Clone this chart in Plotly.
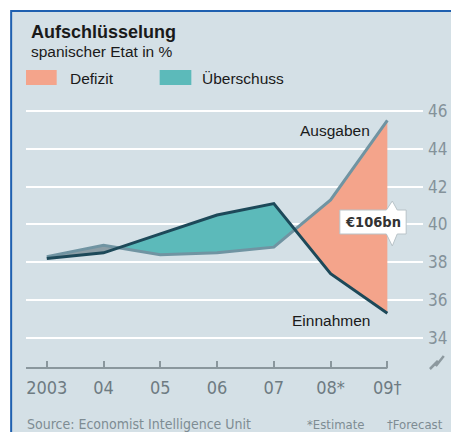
import numpy as np
import plotly.graph_objects as go

# ---- data ----
years = [2003, 2004, 2005, 2006, 2007, 2008, 2009]
year_labels = ["2003", "04", "05", "06", "07", "08*", "09\u2020"]
ausgaben = [38.3, 38.9, 38.4, 38.5, 38.8, 41.3, 45.5]    # expenditure
einnahmen = [38.2, 38.5, 39.5, 40.5, 41.1, 37.4, 35.3]   # revenue
y_ticks = [34, 36, 38, 40, 42, 44, 46]
callout_text = "\u20ac106bn"

# ---- layout geometry (reference pixels; page body has an 8px margin) ----
OFF = 8
FW, FH = 459 - OFF, 432 - OFF
L, R, T, B = 26, 427, 100, 368
W, H = R - L, B - T
X_RANGE = [2002.634, 2009.628]
Y_RANGE = [32.41, 46.58]


def px(x):
    return (x - L) / W


def py(y):
    return (B - y) / H


BG = "#d4e0e6"
ORANGE = "#f4a48b"
TEAL = "#5cbaba"
GRAYFILL = "#8c9ea6"
AUS_COL = "#7094a2"
EIN_COL = "#1d4959"
TICK_COL = "#84929a"
NARROW = "Liberation Sans Narrow, DejaVu Sans Condensed, Liberation Sans, Arial"
SANS = "Liberation Sans, Arial, sans-serif"
TXT = "#1a1a1a"

# ---- crossing points between the two series ----
a = np.array(ausgaben, float)
e = np.array(einnahmen, float)
xs = np.array(years, float)
d = a - e
cross = []
for i in range(len(xs) - 1):
    if d[i] * d[i + 1] < 0:
        t = d[i] / (d[i] - d[i + 1])
        cross.append(xs[i] + t * (xs[i + 1] - xs[i]))
bounds = [xs[0]] + cross + [xs[-1]]
region_colors = [GRAYFILL, TEAL, ORANGE]

fig = go.Figure()

for k in range(len(bounds) - 1):
    x0, x1 = bounds[k], bounds[k + 1]
    inner = [x for x in xs if x0 < x < x1]
    xx = np.array([x0] + inner + [x1])
    ya = np.interp(xx, xs, a)
    ye = np.interp(xx, xs, e)
    up = np.maximum(ya, ye)
    lo = np.minimum(ya, ye)
    px_poly = list(xx) + list(xx[::-1])
    py_poly = list(up) + list(lo[::-1])
    fig.add_trace(go.Scatter(x=px_poly, y=py_poly, fill="toself",
                             fillcolor=region_colors[min(k, 2)],
                             line=dict(width=0), mode="lines",
                             hoverinfo="skip", showlegend=False))

fig.add_trace(go.Scatter(x=years, y=ausgaben, mode="lines",
                         line=dict(color=AUS_COL, width=3),
                         showlegend=False, name="Ausgaben"))
fig.add_trace(go.Scatter(x=years, y=einnahmen, mode="lines",
                         line=dict(color=EIN_COL, width=3),
                         showlegend=False, name="Einnahmen"))

shapes = []
# panel background with blue border
shapes.append(dict(type="rect", xref="paper", yref="paper",
                   x0=px(11), x1=px(458), y0=py(445), y1=py(11),
                   fillcolor=BG, line=dict(color="#1f60b0", width=2),
                   layer="below"))
# baseline
shapes.append(dict(type="line", xref="x", yref="paper",
                   x0=X_RANGE[0], x1=years[-1], y0=0, y1=0,
                   line=dict(color="#8a979d", width=2)))
# axis break symbol
shapes.append(dict(type="path", xref="paper", yref="paper",
                   path="M {} {} L {} {} L {} {} L {} {}".format(
                       px(434), py(369), px(442), py(361),
                       px(440), py(366), px(448), py(356)),
                   line=dict(color="#8d999f", width=2.5)))
# legend swatches
shapes.append(dict(type="rect", xref="paper", yref="paper",
                   x0=px(26), x1=px(57), y0=py(85), y1=py(70),
                   fillcolor=ORANGE, line=dict(width=0)))
shapes.append(dict(type="rect", xref="paper", yref="paper",
                   x0=px(161), x1=px(193), y0=py(85), y1=py(70),
                   fillcolor=TEAL, line=dict(width=0)))
# callout box
pts = [(343, 210), (390, 210), (396, 201), (401, 210), (410, 210),
       (410, 234), (401, 234), (396, 246), (390, 234), (343, 234)]
path = "M " + " L ".join("{} {}".format(px(x), py(y)) for x, y in pts) + " Z"
shapes.append(dict(type="path", xref="paper", yref="paper", path=path,
                   fillcolor="white", line=dict(color="#b8c3c8", width=1)))

annotations = [
    dict(text="<b>Aufschlüsselung</b>", x=px(29), y=py(32), xanchor="left",
         yanchor="middle", font=dict(family=SANS, size=18, color=TXT)),
    dict(text="spanischer Etat in %", x=px(29), y=py(52), xanchor="left",
         yanchor="middle", font=dict(family=SANS, size=15.5, color=TXT)),
    dict(text="Defizit", x=px(68), y=py(78), xanchor="left", yanchor="middle",
         font=dict(family=SANS, size=15.5, color=TXT)),
    dict(text="Überschuss", x=px(202), y=py(78), xanchor="left",
         yanchor="middle", font=dict(family=SANS, size=15.5, color=TXT)),
    dict(text="Ausgaben", x=px(375), y=py(130), xanchor="right",
         yanchor="middle", font=dict(family=SANS, size=15.5, color=TXT)),
    dict(text="Einnahmen", x=px(375), y=py(320), xanchor="right",
         yanchor="middle", font=dict(family=SANS, size=15.5, color=TXT)),
    dict(text="<b>" + callout_text + "</b>", x=px(376), y=py(222),
         xanchor="center", yanchor="middle",
         font=dict(family=NARROW, size=14.5, color="#333333")),
    dict(text="Source: Economist Intelligence Unit", x=px(25), y=py(424),
         xanchor="left", yanchor="middle",
         font=dict(family=NARROW, size=14, color="#7e8c93")),
    dict(text="*Estimate", x=px(308), y=py(424), xanchor="left",
         yanchor="middle", font=dict(family=NARROW, size=13, color="#7e8c93")),
    dict(text="\u2020Forecast", x=px(389), y=py(424), xanchor="left",
         yanchor="middle", font=dict(family=NARROW, size=13, color="#7e8c93")),
]
for an in annotations:
    an.update(xref="paper", yref="paper", showarrow=False)

fig.update_layout(
    width=FW, height=FH,
    margin=dict(l=L - OFF, r=FW - (R - OFF), t=T - OFF, b=FH - (B - OFF)),
    paper_bgcolor="white",
    plot_bgcolor="rgba(0,0,0,0)",
    shapes=shapes,
    annotations=annotations,
    showlegend=False,
    xaxis=dict(range=X_RANGE, tickvals=years, ticktext=year_labels,
               showgrid=False, zeroline=False, showline=False,
               ticks="inside", ticklen=7, tickwidth=1.5,
               tickcolor="#8a979d", ticklabelstandoff=7,
               tickfont=dict(family=NARROW, size=18, color="#6e7b82"),
               fixedrange=True),
    yaxis=dict(range=Y_RANGE, side="right", tickvals=y_ticks,
               ticktext=[str(v) for v in y_ticks],
               showgrid=True, gridcolor="white", gridwidth=2,
               zeroline=False, showline=False, ticks="",
               ticklabelstandoff=4,
               tickfont=dict(family=NARROW, size=17, color=TICK_COL),
               fixedrange=True),
)

fig.write_html("out.html")
